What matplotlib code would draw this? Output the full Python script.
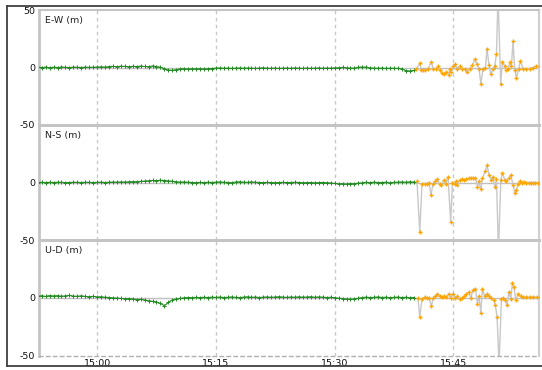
import numpy as np
import matplotlib
matplotlib.use("Agg")
import matplotlib.pyplot as plt
from matplotlib.lines import Line2D

# ---------------- data (time in minutes after 15:00, values in metres) ----------------
panel_labels = ["E-W (m)", "N-S (m)", "U-D (m)"]
time_ticks = [0, 15, 30, 45]
time_tick_labels = ["15:00", "15:15", "15:30", "15:45"]

green_t = np.arange(-7.5, 40.01, 0.5)

ew_green = [0.2, 0.0, 0.3, -0.2, 0.2, 0.0, 0.4, 0.1, -0.1, 0.3, 0.2, 0.0, 0.3, 0.1, 0.2,
            0.4, 0.6, 0.3, 0.8, 1.0, 0.7, 1.1, 0.9, 0.6, 1.0, 0.8, 1.2, 0.9, 0.7, 1.3, 0.8,
            0.2, -1.0, -2.2, -2.5, -1.8, -1.2, -1.0, -1.3, -1.1, -1.2, -1.0, -1.3, -1.1, -0.9,
            -0.6, -0.4, -0.7, -0.5, -0.8, -0.6, -0.4, -0.7, -0.5, -0.6, -0.8, -0.5, -0.3, -0.6, -0.7,
            -0.5, -0.8, -0.6, -0.5, -0.7, -0.4, -0.6, -0.8, -0.5, -0.7, -0.6, -0.4, -0.7, -0.5, -0.6,
            -0.4, -0.2, 0.1, -0.3, -0.5, -0.6, 0.2, 0.4, 0.3, -0.4, -0.6, -0.7, -0.5, -0.8, -0.6,
            -0.7, -0.8, -1.2, -2.8, -3.0, -2.6]
ns_green = [0.0, 0.2, -0.1, 0.1, 0.0, 0.2, 0.1, -0.1, 0.0, 0.2, 0.1, 0.0, 0.2, 0.1, 0.0,
            0.1, 0.3, 0.0, 0.2, 0.4, 0.3, 0.5, 0.4, 0.6, 0.8, 0.7, 1.0, 1.2, 1.5, 1.8, 1.6,
            2.0, 1.7, 1.4, 1.0, 0.6, 0.3, 0.5, 0.2, 0.0, -0.2, 0.1, -0.1, 0.2, 0.0,
            0.3, 0.5, 0.2, 0.0, -0.2, 0.4, 0.6, 0.3, 0.1, 0.5, 0.2, 0.0, -0.1, 0.1, 0.0,
            -0.2, 0.0, 0.1, -0.1, 0.0, 0.2, 0.0, -0.2, -0.1, 0.0, -0.3, -0.1, 0.0, -0.2, -0.4,
            -0.8, -1.2, -1.0, -1.4, -0.9, -1.1, -0.6, -0.3, 0.2, -0.2, 0.3, -0.1, 0.0, 0.2, -0.3,
            0.1, 0.3, 0.5, 0.2, 0.6, 0.4]
ud_green = [1.5, 1.8, 1.2, 2.0, 1.6, 1.9, 1.4, 1.7, 2.1, 1.5, 1.3, 1.8, 1.2, 1.0, 1.3,
            0.8, 1.0, 0.5, 0.3, 0.0, -0.2, -0.5, -0.8, -0.6, -1.0, -1.5, -1.3, -1.8, -2.5, -3.0, -3.6,
            -4.8, -6.8, -4.0, -1.8, -1.0, -0.5, 0.0, 0.3, 0.1, 0.4, 0.2, 0.5, 0.3, 0.6,
            0.4, 0.7, 0.3, 0.5, 0.8, 0.4, 0.2, 0.6, 0.9, 0.5, 0.7, 0.3, 0.6, 0.8, 0.5,
            0.7, 1.0, 0.6, 0.4, 0.8, 0.5, 0.9, 0.6, 0.7, 1.0, 0.5, 0.8, 0.6, 0.3, 0.5,
            0.2, -0.3, -0.6, -1.0, -1.3, -0.9, -0.4, 0.3, 0.6, 0.2, 0.5, 0.8, 0.3, 0.6, 0.1,
            0.4, 0.7, 0.2, 0.5, 0.1, 0.3]

ew_orange_t = [40.33, 40.75, 40.96, 41.16, 41.38, 41.76, 42.23, 42.43, 42.86, 43.06, 43.28, 43.57,
               43.82, 44.12, 44.41, 44.54, 44.75, 44.96, 45.26, 45.46, 45.80, 46.09, 46.43, 46.72,
               47.06, 47.40, 47.69, 47.98, 48.24, 48.46, 48.75, 49.05, 49.25, 49.50, 49.72, 50.01,
               50.22, 50.44, 50.64, 50.98, 51.20, 51.49, 51.70, 51.90, 52.12, 52.33, 52.53, 52.75,
               52.96, 53.25, 53.47, 53.80, 54.23, 54.64, 55.06, 55.49, 55.91]
ew_orange = [-1, 3.6, -2, -2, -2, -1.5, 5, -1, -1, 1, -2, -5, -6, -4, -6.5, -1, -3.6, 1, 3, -1,
             1, -1.3, -1, -4, -1.3, 2, 7, 3, -1, -14, -1, 0, 16, 2, -6, -1, 1, 12, 62, -14, 5,
             1, -2, -1, 4.5, 1, 23, -2, -9, -1, 6, -1, -1, -1, 0, 1, 1]

ns_orange_t = [40.40, 40.75, 41.04, 41.38, 41.67, 41.92, 42.17, 42.43, 42.73, 42.98, 43.27, 43.49,
               43.78, 44.03, 44.32, 44.66, 44.88, 45.17, 45.38, 45.51, 45.80, 46.09, 46.35, 46.65,
               46.94, 47.19, 47.48, 47.79, 48.04, 48.20, 48.46, 48.67, 49.05, 49.25, 49.51, 49.81,
               50.01, 50.23, 50.44, 50.69, 50.99, 51.20, 51.49, 51.70, 52.00, 52.25, 52.54, 52.76,
               52.97, 53.17, 53.39, 53.68, 53.93, 54.23, 54.53, 54.78, 55.07, 55.37, 55.63, 55.92]
ns_orange = [1.3, -43, -1, -1, -1, 0, -11, -1, 1, 3, -1.5, -2, 2, -1, 5, -34, 0, -1, 1.3, -2,
             2, 2.7, 2, 3, 3.6, 4, 3.6, 4, -3.6, 1, -6, 4, 10, 15, 6.5, 2, 5, -3.6, 3, -60,
             2, 8.5, 2, 1, 3.6, 6.5, -2, -9.4, -6.5, -1.5, 1.3, 0, 0.5, 0, 0, 0, 0, 0, 0, 0]

ud_orange_t = [40.53, 40.75, 41.04, 41.38, 41.67, 41.92, 42.23, 42.43, 42.73, 42.98, 43.27, 43.56,
               43.82, 44.12, 44.41, 44.66, 44.96, 45.26, 45.51, 45.80, 46.09, 46.35, 46.65, 46.94,
               47.19, 47.48, 47.79, 48.04, 48.24, 48.46, 48.67, 48.96, 49.25, 49.51, 49.81, 50.10,
               50.31, 50.52, 50.77, 51.07, 51.28, 51.58, 51.78, 52.00, 52.25, 52.46, 52.67, 52.88,
               53.17, 53.48, 53.80, 54.23, 54.65, 55.07, 55.50, 55.92]
ud_orange = [0, -16.7, -1, 0.7, 0, 0, -7.4, 0, 1.3, 3, 1.5, 0.7, 1.3, 0.7, 3.6, 0, 3.6, 0, 1.3,
             -0.7, 0, 1.3, 3.6, 5, 0, 6.5, 8, -5, 1.3, -13, 8, 1.3, 3.6, 2, 0, -1.6, -6.5, -16.7,
             -58, -0.7, 0, -2, -6.5, 5, -0.7, 13, 9, -2, 3.6, 1.3, 0.7, 0.7, 0.7, 0.7, 0.7, 0.7]

greens = [ew_green, ns_green, ud_green]
orange_ts = [ew_orange_t, ns_orange_t, ud_orange_t]
oranges = [ew_orange, ns_orange, ud_orange]

# ---------------- drawing ----------------
plt.rcParams['font.family'] = ['DejaVu Sans']
plt.rcParams['axes.unicode_minus'] = False
W, H = 542, 370
fig = plt.figure(figsize=(W / 100, H / 100), dpi=100)
fig.patch.set_facecolor('white')

left = 39.3 / W
width = (539.3 - 39.3) / W
tops = [10, 125, 240]
heights = [115, 115, 115.7]

GRID = '#c8c8c8'
SEP = '#c4c4c4'
GREEN = '#228b22'
ORANGE = '#ffa500'

axes = []
for i in range(3):
    bottom = 1 - (tops[i] + heights[i]) / H
    ax = fig.add_axes([left, bottom, width, heights[i] / H])
    axes.append(ax)
    ax.set_xlim(-7.3, 55.85)
    ax.set_ylim(-50, 50)
    ax.axhline(0, color='#c0c0c0', lw=1.0, zorder=1)
    for t in time_ticks:
        ax.axvline(t, color=GRID, lw=1.0, ls=(0, (2.5, 2.5)), zorder=0)
    ax.plot(green_t, greens[i], color=GREEN, lw=0.8, marker='+', ms=2.2, mew=0.7, zorder=3)
    ax.plot(orange_ts[i], oranges[i], color='#c8c8c8', lw=1.0, zorder=2)
    ax.plot(orange_ts[i], oranges[i], ls='none', color=ORANGE, marker='+', ms=3.2, mew=1.0, zorder=4)

    ax.text(0.012, 0.905, panel_labels[i], transform=ax.transAxes, fontsize=6.8,
            ha='left', va='center', color='#202020')

    if i == 0:
        ax.set_yticks([50, 0, -50])
    else:
        ax.set_yticks([0, -50])
    ax.tick_params(axis='y', length=0, pad=3, labelsize=6.8, labelcolor='#101010')
    ax.set_xticks(time_ticks)
    if i == 2:
        ax.set_xticklabels(time_tick_labels)
        ax.tick_params(axis='x', length=0, pad=2.5, labelsize=6.8, labelcolor='#101010')
    else:
        ax.tick_params(axis='x', length=0, labelbottom=False)

    ax.spines['left'].set_color(SEP)
    ax.spines['left'].set_linewidth(2)
    ax.spines['right'].set_color('#d0d0d0')
    ax.spines['right'].set_linewidth(1.5)
    ax.spines['top'].set_color(SEP)
    ax.spines['top'].set_linewidth(1.5 if i == 0 else 2)
    ax.spines['bottom'].set_color(SEP)
    ax.spines['bottom'].set_linewidth(2)
    if i == 2:
        ax.spines['bottom'].set_linestyle((0, (2.5, 2.5)))
        ax.spines['bottom'].set_linewidth(1.0)
        ax.spines['bottom'].set_color('#b0b0b0')
    ax.set_facecolor('none')

# outer frame lines (dark)
fx0, fy_top, fy_bot = 7 / W, 1 - 6 / H, 1 - 366 / H
fig.add_artist(Line2D([fx0, 1.0], [fy_top, fy_top], transform=fig.transFigure, color='#404040', lw=1.3))
fig.add_artist(Line2D([fx0, fx0], [fy_bot, fy_top], transform=fig.transFigure, color='#404040', lw=1.3))
fig.add_artist(Line2D([fx0, 1.0], [fy_bot, fy_bot], transform=fig.transFigure, color='#404040', lw=1.3))

fig.savefig('out.png', dpi=100, facecolor='white')
